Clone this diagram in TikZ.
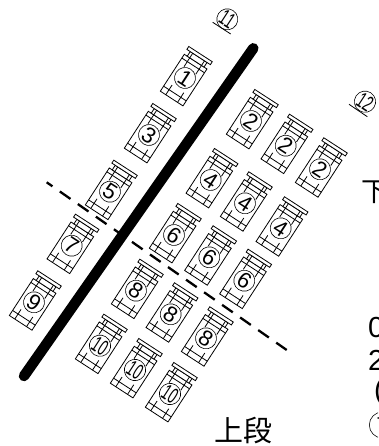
\documentclass[tikz,border=0pt]{standalone}
\usepackage{fontspec}
\setmainfont{Liberation Sans}
\newfontfamily\cjkfont{Noto Sans CJK JP}
\tikzset{
  every node/.style={inner sep=0pt},
  cellline/.style={line width=.8pt},
  cellnum/.style={circle, draw, line width=.6pt, fill=white, minimum size=21pt, font=\fontsize{22}{22}\selectfont, rotate=-33},
  sidetext/.style={anchor=west, font=\fontsize{29}{29}\selectfont},
  wall/.style={line width=10.5pt, line cap=round},
  cutline/.style={line width=2.3pt, dash pattern=on 13pt off 9pt, dash phase=6pt}
}
\newcommand{\narrow}[1]{\scalebox{.6}[1]{#1}}
\begin{document}
\begin{tikzpicture}[x=1pt, y=-1pt]
\useasboundingbox (0,0) rectangle (378,446);
\clip (0,0) rectangle (378,446);
\coordinate (cutA) at (46.7,182.3);
\coordinate (cutB) at (286.7,350);
\coordinate (wallA) at (253.3,48.3);
\coordinate (wallB) at (24,376);
\draw[cutline] (cutA) -- (cutB);
\draw[wall] (wallA) -- (wallB);
\foreach \name/\cx/\cy/\lab in {
  c1/185/78/1, c3/149/135/3, c5/110/191.7/5, c7/71.7/245.7/7, c9/34/302.3/9,
  a2/251/121/2, b2/285.7/145.7/2, d2/320/169.3/2,
  a4/210.7/180/4, b4/245/203.3/4, d4/280.7/228.3/4,
  a6/174/235/6, b6/209.3/257.3/6, d6/244.3/280.7/6,
  a8/136/290.7/8, b8/170.7/314.3/8, d8/206/338.3/8,
  a10/100/345.7/\narrow{10}, b10/135/370/\narrow{10}, d10/170/394/\narrow{10}}{
  \begin{scope}[shift={(\cx,\cy)}, rotate=-33, cellline]
    \draw[fill=white] (-13.5,24.5) rectangle (13.5,-19.5);
    \draw (-13.5,18.5) -- (13.5,18.5);
    \draw (-13.5,-15) -- (13.5,-15);
    \draw[fill=white] (-10,-19.5) rectangle (10,-25);
    \draw[fill=white] (-14,-25) rectangle (14,-28.5);
    \foreach \u in {-7,7} {
      \draw (\u,24.5) -- (\u,13);
      \draw (\u,-25) -- (\u,-9);
    }
  \end{scope}
  \node[cellnum] (\name) at (\cx,\cy) {\lab};
}
\node[cellnum] (n11) at (227.3,19.3) {\narrow{11}};
\node[cellnum] (n12) at (365,101.7) {\narrow{12}};
\coordinate (ulA) at (212.7,22.3);
\coordinate (ulB) at (230.7,34);
\coordinate (ulC) at (349,104.3);
\coordinate (ulD) at (367.3,116.7);
\draw[line width=.8pt] (ulA) -- (ulB);
\draw[line width=.8pt] (ulC) -- (ulD);
\node[font=\cjkfont\fontsize{29}{29}\selectfont] (upper) at (243.3,430.7) {上段};
\node[sidetext, font=\cjkfont\fontsize{27}{27}\selectfont] (lower) at (361,192) {下};
\node[sidetext] (line0) at (368,328) {0};
\node[sidetext] (line2) at (368,360) {2};
\node[sidetext] (line3) at (374,392) {(};
\node[sidetext, font=\fontsize{20}{20}\selectfont, draw, circle, line width=.6pt, minimum size=26pt] (line4) at (369,425) {7};
\end{tikzpicture}
\end{document}
